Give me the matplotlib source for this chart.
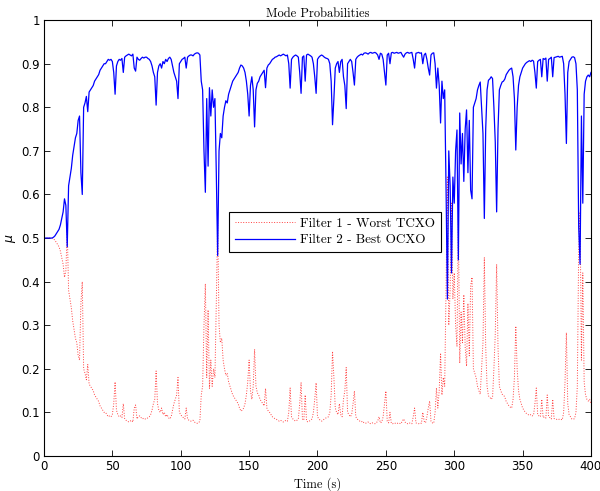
import matplotlib
matplotlib.use("Agg")
import matplotlib.pyplot as plt
import numpy as np

# time in seconds (1 s steps) and probability of filter 2 (best OCXO)
time_s = np.arange(0, 401)
p_best_ocxo = [
    0.50, 0.50, 0.50, 0.50, 0.50, 0.50, 0.50, 0.502, 0.505, 0.51,
    0.515, 0.52, 0.53, 0.545, 0.56, 0.59, 0.575, 0.48, 0.62, 0.64,
    0.66, 0.69, 0.71, 0.73, 0.74, 0.77, 0.78, 0.65, 0.60, 0.80,
    0.81, 0.825, 0.79, 0.835, 0.84, 0.845, 0.85, 0.86, 0.865, 0.87,
    0.875, 0.885, 0.89, 0.895, 0.90, 0.90, 0.905, 0.91, 0.908, 0.91,
    0.905, 0.88, 0.83, 0.895, 0.905, 0.91, 0.908, 0.912, 0.88, 0.915,
    0.918, 0.92, 0.922, 0.92, 0.918, 0.922, 0.89, 0.883, 0.915, 0.91,
    0.908, 0.912, 0.915, 0.913, 0.915, 0.915, 0.912, 0.91, 0.905, 0.895,
    0.88, 0.87, 0.805, 0.88, 0.895, 0.90, 0.89, 0.905, 0.90, 0.91,
    0.905, 0.912, 0.915, 0.91, 0.895, 0.88, 0.87, 0.86, 0.82, 0.90,
    0.905, 0.91, 0.912, 0.915, 0.89, 0.915, 0.918, 0.92, 0.92, 0.918,
    0.922, 0.924, 0.925, 0.924, 0.92, 0.86, 0.84, 0.70, 0.605, 0.82,
    0.665, 0.845, 0.78, 0.84, 0.80, 0.82, 0.65, 0.46, 0.70, 0.74,
    0.73, 0.78, 0.80, 0.815, 0.81, 0.83, 0.84, 0.85, 0.86, 0.865,
    0.87, 0.875, 0.88, 0.89, 0.897, 0.895, 0.89, 0.88, 0.86, 0.83,
    0.78, 0.85, 0.87, 0.84, 0.755, 0.84, 0.855, 0.86, 0.87, 0.875,
    0.88, 0.885, 0.845, 0.89, 0.897, 0.90, 0.905, 0.91, 0.912, 0.915,
    0.916, 0.918, 0.92, 0.918, 0.92, 0.922, 0.92, 0.918, 0.92, 0.90,
    0.844, 0.91, 0.915, 0.918, 0.92, 0.918, 0.915, 0.88, 0.832, 0.915,
    0.918, 0.86, 0.92, 0.922, 0.92, 0.918, 0.915, 0.90, 0.87, 0.832,
    0.91, 0.915, 0.918, 0.92, 0.918, 0.915, 0.913, 0.912, 0.91, 0.90,
    0.86, 0.76, 0.82, 0.89, 0.90, 0.905, 0.88, 0.905, 0.91, 0.87,
    0.85, 0.797, 0.90, 0.905, 0.91, 0.905, 0.88, 0.851, 0.91, 0.915,
    0.918, 0.92, 0.922, 0.92, 0.924, 0.925, 0.924, 0.922, 0.925, 0.926,
    0.924, 0.925, 0.926, 0.924, 0.92, 0.91, 0.924, 0.922, 0.91, 0.88,
    0.851, 0.92, 0.924, 0.90, 0.925, 0.926, 0.924, 0.925, 0.926, 0.924,
    0.925, 0.926, 0.92, 0.915, 0.922, 0.925, 0.926, 0.924, 0.925, 0.926,
    0.91, 0.89, 0.924, 0.925, 0.926, 0.924, 0.925, 0.90, 0.92, 0.924,
    0.91, 0.89, 0.874, 0.92, 0.924, 0.925, 0.90, 0.844, 0.89, 0.85,
    0.764, 0.86, 0.82, 0.84, 0.617, 0.36, 0.70, 0.62, 0.42, 0.64,
    0.58, 0.70, 0.748, 0.45, 0.787, 0.67, 0.74, 0.63, 0.75, 0.794,
    0.65, 0.77, 0.61, 0.59, 0.80, 0.81, 0.82, 0.84, 0.85, 0.858,
    0.80, 0.74, 0.545, 0.75, 0.84, 0.862, 0.865, 0.87, 0.866, 0.80,
    0.72, 0.56, 0.75, 0.84, 0.85, 0.858, 0.86, 0.865, 0.875, 0.88,
    0.885, 0.888, 0.89, 0.87, 0.82, 0.702, 0.80, 0.85, 0.87, 0.88,
    0.89, 0.895, 0.90, 0.903, 0.905, 0.907, 0.905, 0.908, 0.906, 0.88,
    0.844, 0.905, 0.908, 0.91, 0.87, 0.912, 0.91, 0.913, 0.86, 0.91,
    0.912, 0.915, 0.87, 0.914, 0.915, 0.916, 0.917, 0.915, 0.916, 0.917,
    0.90, 0.83, 0.717, 0.88, 0.905, 0.91, 0.915, 0.916, 0.914, 0.90,
    0.84, 0.525, 0.44, 0.78, 0.58, 0.83, 0.86, 0.87, 0.874, 0.87,
    0.88,
]
p_best_ocxo = np.array(p_best_ocxo)
# two-mode filter: the probabilities sum to one
p_worst_tcxo = 1.0 - p_best_ocxo

x_ticks = np.arange(0, 401, 50)
y_ticks = np.round(np.arange(0, 1.01, 0.1), 1)

serif = "cmr10"

fig = plt.figure(figsize=(6.0, 4.91), dpi=100)
ax = fig.add_axes([0.0733, 0.0713, 0.9117, 0.8877])

ax.plot(time_s, p_worst_tcxo, color="red", linestyle=":", linewidth=0.7,
        alpha=0.75, label="Filter 1 - Worst TCXO")
ax.plot(time_s, p_best_ocxo, color="blue", linestyle="-", linewidth=0.9,
        label="Filter 2 - Best OCXO")

ax.set_xlim(0, 400)
ax.set_ylim(0, 1)
ax.set_xticks(x_ticks)
ax.set_yticks(y_ticks)
ax.set_yticklabels(["0" if v == 0 else ("1" if v == 1 else f"{v:g}") for v in y_ticks])
ax.tick_params(direction="in", top=True, right=True, length=4, width=0.6,
               labelsize=8.5, pad=3)
for s in ax.spines.values():
    s.set_linewidth(0.8)

ax.set_title("Mode Probabilities", family=serif, fontsize=9, pad=2)
ax.set_xlabel("Time (s)", family=serif, fontsize=9, labelpad=3)
ax.set_ylabel(r"$\mu$", fontsize=9, labelpad=2)

leg = ax.legend(loc="center", bbox_to_anchor=(0.532, 0.514), fancybox=False,
                framealpha=1, edgecolor="black", borderpad=0.45, handlelength=4.6,
                handletextpad=0.4, labelspacing=0.3,
                prop={"family": serif, "size": 9.5})
leg.get_frame().set_linewidth(0.8)

fig.savefig("out.png", dpi=100)
